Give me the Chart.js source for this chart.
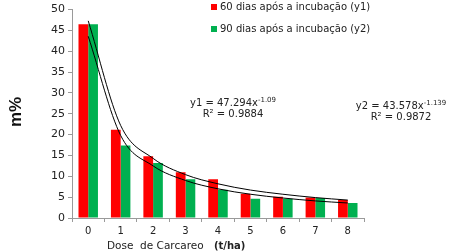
<!DOCTYPE html>
<html>
<head>
<meta charset="utf-8">
<script src="https://cdn.jsdelivr.net/npm/chart.js@4/dist/chart.umd.min.js"></script>
<style>
html,body{margin:0;padding:0;background:#fff;}
#wrap{width:452px;height:252px;position:relative;}
</style>
</head>
<body>
<div id="wrap"><canvas id="c" width="452" height="252"></canvas></div>
<script>
const categories = ['0','1','2','3','4','5','6','7','8'];
const y1Values = [46.5, 21.2, 14.8, 11.0, 9.3, 5.8, 5.1, 4.9, 4.3];
const y2Values = [46.5, 17.4, 13.2, 9.3, 6.8, 4.6, 4.6, 4.8, 3.6];
const trend1Values = [47.3, 22.2, 14.3, 10.4, 8.2, 6.7, 5.7, 4.9, 4.3];
const trend2Values = [43.6, 19.8, 12.5, 9.0, 7.0, 5.7, 4.8, 4.1, 3.6];
const seriesLabels = ['60 dias após a incubação (y1)', '90 dias após a incubação (y2)'];
const yMin = 0, yMax = 50, yStep = 5;
const eq1 = ['y1 = 47.294x', '-1.09', 'R² = 0.9884'];
const eq2 = ['y2 = 43.578x', '-1.139', 'R² = 0.9872'];
const xTitle = ['Dose  de Carcareo', '(t/ha)'];
const yTitle = 'm%';

const RED = '#FF0000', GREEN = '#00B050', AX = '#9a9a9a', TXT = '#222';
const FONT = '"DejaVu Sans", Verdana, sans-serif';

const textPlugin = {
  id: 'textPlugin',
  afterDraw(chart) {
    const ctx = chart.ctx;
    ctx.save();
    // legend
    ctx.font = '10px ' + FONT;
    ctx.textBaseline = 'middle';
    ctx.textAlign = 'left';
    [[RED, 7], [GREEN, 29]].forEach((it, i) => {
      ctx.fillStyle = it[0];
      ctx.fillRect(211, it[1] - 3, 6, 6);
      ctx.fillStyle = TXT;
      ctx.fillText(seriesLabels[i], 220, it[1]);
    });
    // equations
    function eq(e, cx, y) {
      ctx.textAlign = 'left';
      ctx.font = '10px ' + FONT;
      const w1 = ctx.measureText(e[0]).width;
      ctx.font = '7px ' + FONT;
      const w2 = ctx.measureText(e[1]).width;
      const x0 = cx - (w1 + w2) / 2;
      ctx.fillStyle = TXT;
      ctx.font = '10px ' + FONT;
      ctx.fillText(e[0], x0, y);
      ctx.font = '7px ' + FONT;
      ctx.fillText(e[1], x0 + w1, y - 3);
      ctx.font = '10px ' + FONT;
      ctx.textAlign = 'center';
      ctx.fillText(e[2], cx, y + 11);
    }
    eq(eq1, 233, 103);
    eq(eq2, 401, 106);
    // x title
    ctx.textAlign = 'left';
    ctx.font = '10.5px ' + FONT;
    ctx.fillStyle = TXT;
    ctx.fillText(xTitle[0], 107, 246);
    ctx.font = 'bold 10px ' + FONT;
    ctx.fillText(xTitle[1], 214, 246);
    // y title
    ctx.translate(16, 112);
    ctx.rotate(-Math.PI / 2);
    ctx.textAlign = 'center';
    ctx.font = 'bold 17px "Liberation Sans", Arial, sans-serif';
    ctx.fillStyle = '#111';
    ctx.fillText(yTitle, 0, 0);
    ctx.restore();
  }
};

new Chart(document.getElementById('c'), {
  data: {
    labels: categories,
    datasets: [
      { type: 'line', data: trend1Values, borderColor: '#000', borderWidth: 1, pointRadius: 0, cubicInterpolationMode: 'monotone', fill: false, order: 0 },
      { type: 'line', data: trend2Values, borderColor: '#000', borderWidth: 1, pointRadius: 0, cubicInterpolationMode: 'monotone', fill: false, order: 0 },
      { type: 'bar', label: seriesLabels[0], data: y1Values, backgroundColor: RED, categoryPercentage: 0.6, barPercentage: 1, order: 1 },
      { type: 'bar', label: seriesLabels[1], data: y2Values, backgroundColor: GREEN, categoryPercentage: 0.6, barPercentage: 1, order: 1 }
    ]
  },
  options: {
    responsive: false,
    animation: false,
    devicePixelRatio: 1,
    layout: { padding: { left: 0, right: 88, top: 4, bottom: 0 } },
    plugins: { legend: { display: false }, tooltip: { enabled: false } },
    scales: {
      x: {
        offset: true,
        grid: { display: true, offset: true, drawOnChartArea: false, drawTicks: true, tickLength: 4, color: AX },
        border: { color: AX },
        ticks: { font: { family: FONT, size: 10 }, color: TXT, padding: 3 },
        afterFit: s => { s.height = 34; }
      },
      y: {
        min: yMin, max: yMax,
        grid: { drawOnChartArea: false, drawTicks: true, tickLength: 4, color: AX },
        border: { color: AX },
        ticks: { stepSize: yStep, font: { family: FONT, size: 11 }, color: TXT, padding: 3 },
        afterFit: s => { s.width = 72; }
      }
    }
  },
  plugins: [textPlugin]
});
</script>
</body>
</html>
